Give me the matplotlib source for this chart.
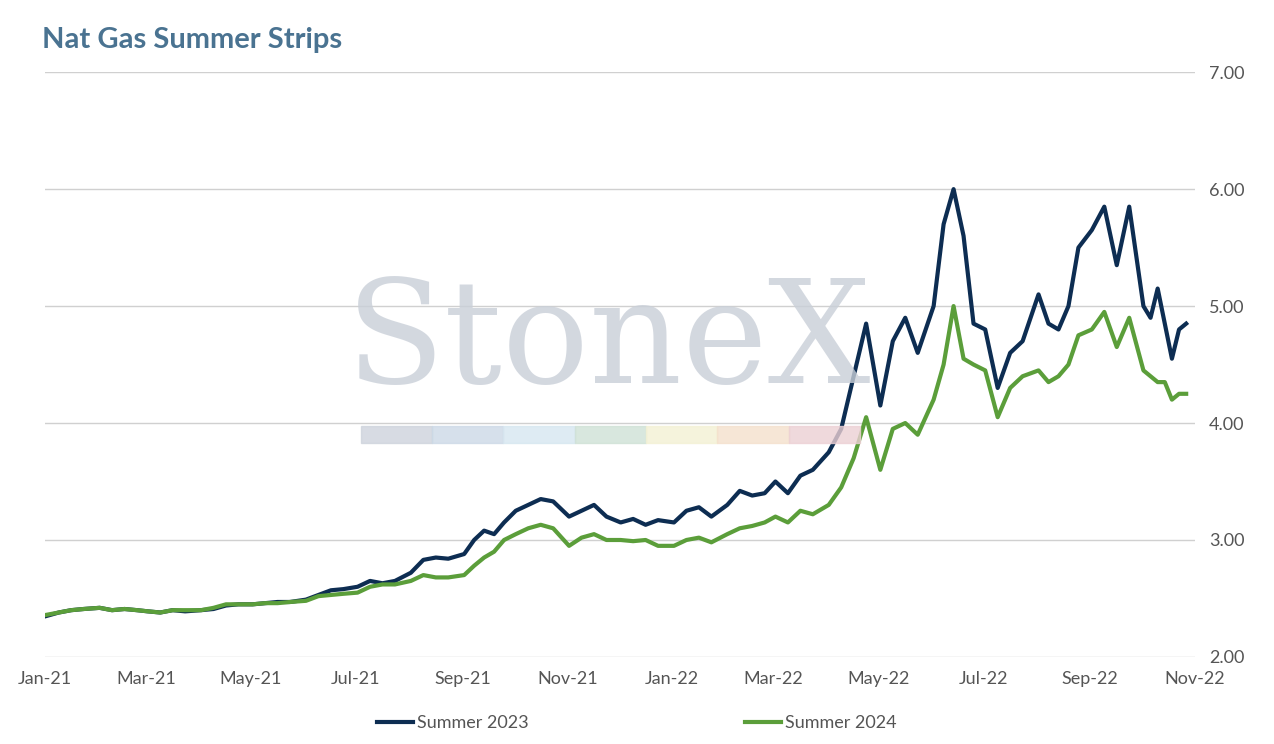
import pandas as pd
import numpy as np
import matplotlib
matplotlib.use('Agg')
import matplotlib.pyplot as plt

plt.rcParams['font.family'] = ['Lato', 'DejaVu Sans']

# weekly readings, grouped by month (Jan-21 .. Oct-22)
months = pd.date_range('2021-01-01', '2022-10-01', freq='MS')
s23 = [
    [2.35, 2.38, 2.40, 2.41], [2.42, 2.40, 2.41, 2.40], [2.39, 2.38, 2.40, 2.39],
    [2.40, 2.41, 2.44, 2.45], [2.45, 2.46, 2.47, 2.47], [2.49, 2.53, 2.57, 2.58],
    [2.60, 2.65, 2.63, 2.65], [2.72, 2.83, 2.85, 2.84], [2.88, 3.00, 3.08, 3.05, 3.15],
    [3.25, 3.30, 3.35, 3.33], [3.20, 3.25, 3.30, 3.20], [3.15, 3.18, 3.13, 3.17],
    [3.15, 3.25, 3.28, 3.20], [3.30, 3.42, 3.38, 3.40], [3.50, 3.40, 3.55, 3.60],
    [3.75, 3.95, 4.40, 4.85], [4.15, 4.70, 4.90, 4.60], [5.00, 5.70, 6.00, 5.60, 4.85],
    [4.80, 4.30, 4.60, 4.70], [5.10, 4.85, 4.80, 5.00, 5.50], [5.65, 5.85, 5.35, 5.85],
    [5.00, 4.90, 5.15, 4.85, 4.55, 4.80, 4.85],
]
s24 = [
    [2.36, 2.38, 2.40, 2.41], [2.42, 2.40, 2.41, 2.40], [2.39, 2.38, 2.40, 2.40],
    [2.40, 2.42, 2.45, 2.45], [2.45, 2.46, 2.46, 2.47], [2.48, 2.52, 2.53, 2.54],
    [2.55, 2.60, 2.62, 2.62], [2.65, 2.70, 2.68, 2.68], [2.70, 2.78, 2.85, 2.90, 3.00],
    [3.05, 3.10, 3.13, 3.10], [2.95, 3.02, 3.05, 3.00], [3.00, 2.99, 3.00, 2.95],
    [2.95, 3.00, 3.02, 2.98], [3.05, 3.10, 3.12, 3.15], [3.20, 3.15, 3.25, 3.22],
    [3.30, 3.45, 3.70, 4.05], [3.60, 3.95, 4.00, 3.90], [4.20, 4.50, 5.00, 4.55, 4.50],
    [4.45, 4.05, 4.30, 4.40], [4.45, 4.35, 4.40, 4.50, 4.75], [4.80, 4.95, 4.65, 4.90],
    [4.45, 4.40, 4.35, 4.35, 4.20, 4.25, 4.25],
]
tick_labels = ['Jan-21', 'Mar-21', 'May-21', 'Jul-21', 'Sep-21', 'Nov-21',
               'Jan-22', 'Mar-22', 'May-22', 'Jul-22', 'Sep-22', 'Nov-22']


def spread(groups):
    d, v = [], []
    for m, vals in zip(months, groups):
        step = 29 / len(vals)
        for i, x in enumerate(vals):
            d.append(m + pd.Timedelta(days=i * step + 1))
            v.append(x)
    return d, v


fig = plt.figure(figsize=(12.74, 7.44), dpi=100)
ax = fig.add_axes([0.035, 0.117, 0.903, 0.786])

d23, v23 = spread(s23)
d24, v24 = spread(s24)
ax.plot(d23, v23, color='#0d2d52', lw=3, label='Summer 2023', zorder=3)
ax.plot(d24, v24, color='#5b9e3a', lw=3, label='Summer 2024', zorder=3)

ax.set_xlim(pd.Timestamp('2021-01-01'), pd.Timestamp('2022-11-01'))
ax.set_ylim(2, 7)
ax.yaxis.tick_right()
ax.set_yticks(np.arange(2, 7.01, 1))
ax.set_yticklabels([f'{t:.2f}' for t in np.arange(2, 7.01, 1)])
ax.set_xticks(pd.date_range('2021-01-01', '2022-11-01', freq='2MS'))
ax.set_xticklabels(tick_labels)
ax.grid(axis='y', color='#d0d0d0', lw=1)
ax.tick_params(length=0, labelsize=13, colors='#555555', pad=10)
for s in ax.spines.values():
    s.set_visible(False)

# watermark
fig.text(0.478, 0.445, 'StoneX', fontsize=104, family='DejaVu Serif',
         color='#c9cfd8', alpha=0.8, ha='center', va='bottom', zorder=0)
strip = ['#cdd3dc', '#ccd9e6', '#d6e6f0', '#cfe1d6', '#f3f1d4', '#f4e0cc', '#ecd0d4']
for i, c in enumerate(strip):
    fig.patches.append(plt.Rectangle((0.283 + i * 0.056, 0.405), 0.056, 0.022,
                                     transform=fig.transFigure, color=c, alpha=0.8, zorder=0))

fig.text(0.033, 0.935, 'Nat Gas Summer Strips', fontsize=21, fontweight='bold', color='#4a7391')
fig.legend(loc='lower center', ncol=2, frameon=False, fontsize=13, bbox_to_anchor=(0.5, -0.005),
           columnspacing=12, handlelength=2, handletextpad=0.2, labelcolor='#555555')

fig.savefig('out.png')
